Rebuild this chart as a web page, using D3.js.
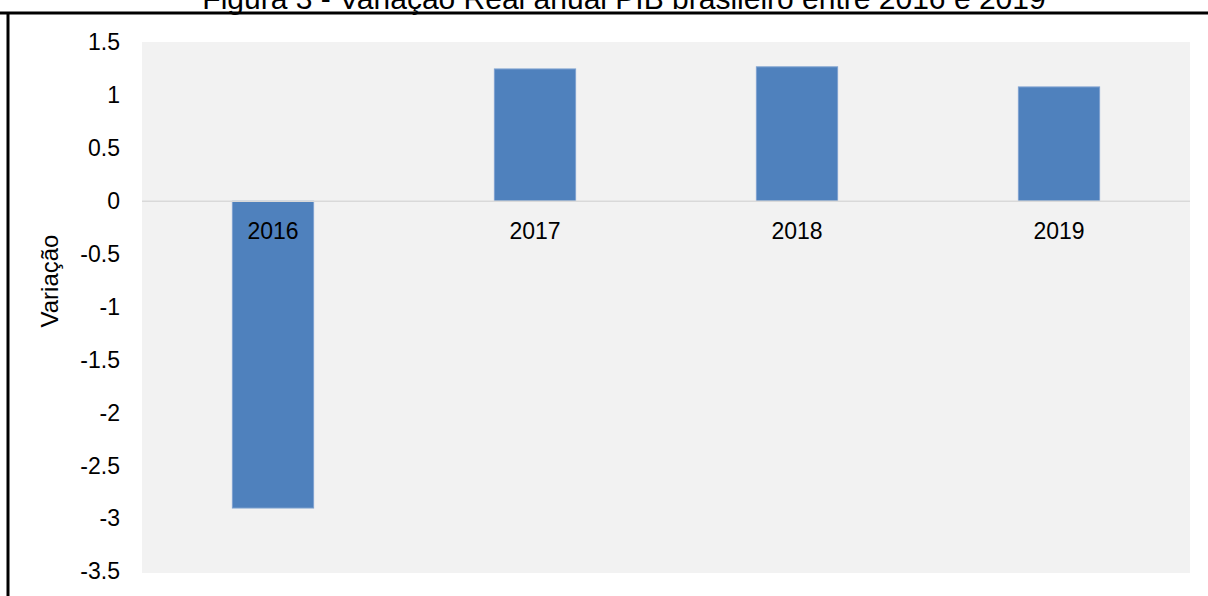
<!DOCTYPE html>
<html>
<head>
<meta charset="utf-8">
<script src="https://cdn.jsdelivr.net/npm/d3@7"></script>
<style>
  html, body { margin: 0; padding: 0; background: #ffffff; }
  svg { display: block; font-family: "Liberation Sans", Arial, sans-serif; }
</style>
</head>
<body>
<svg id="chart" width="1208" height="596"></svg>
<script>
// Variação real anual do PIB brasileiro
const years = ["2016", "2017", "2018", "2019"];
const variacao = [-2.9, 1.25, 1.27, 1.08];
const yTicks = [1.5, 1, 0.5, 0, -0.5, -1, -1.5, -2, -2.5, -3, -3.5];
const titleText = "Figura 3 - Variação Real anual PIB brasileiro entre 2016 e 2019";
const yTitle = "Variação";

const svg = d3.select("#chart");
const W = 1208, H = 596;
const plot = { left: 142, right: 1190, top: 42, bottom: 573 };

// title, partially clipped at the top
svg.append("text")
  .attr("x", 624).attr("y", 9)
  .attr("text-anchor", "middle")
  .attr("font-size", 30)
  .attr("fill", "#000")
  .text(titleText);

// frame lines (top and left)
svg.append("line").attr("x1", 0).attr("x2", W).attr("y1", 13).attr("y2", 13)
  .attr("stroke", "#000").attr("stroke-width", 3);
svg.append("line").attr("x1", 8).attr("x2", 8).attr("y1", 12).attr("y2", H)
  .attr("stroke", "#000").attr("stroke-width", 3);

// plot background
svg.append("rect")
  .attr("x", plot.left).attr("y", plot.top)
  .attr("width", plot.right - plot.left).attr("height", plot.bottom - plot.top)
  .attr("fill", "#F2F2F2");

const x = d3.scaleBand().domain(years).range([plot.left, plot.right]).paddingInner(0.69).paddingOuter(0.345);
const y = d3.scaleLinear().domain([-3.5, 1.5]).range([plot.bottom - 1.5, plot.top + 0.5]);

// y axis tick labels
const yAxis = d3.axisLeft(y).tickValues(yTicks).tickSize(0).tickPadding(0)
  .tickFormat(d => String(d));
const gy = svg.append("g").attr("transform", "translate(120,0)").call(yAxis);
gy.select(".domain").remove();
gy.selectAll("text").attr("font-size", 23).attr("fill", "#000")
  .attr("font-family", "Liberation Sans, Arial, sans-serif");

// bars
svg.append("g").selectAll("rect")
  .data(years.map((k, i) => ({ k, v: variacao[i] })))
  .join("rect")
  .attr("x", d => x(d.k))
  .attr("width", x.bandwidth())
  .attr("y", d => y(Math.max(0, d.v)))
  .attr("height", d => Math.abs(y(d.v) - y(0)))
  .attr("fill", "#4F81BD")
  .attr("stroke", "#7EA1D0")
  .attr("stroke-width", 1);

// zero line
svg.append("line")
  .attr("x1", plot.left).attr("x2", plot.right)
  .attr("y1", y(0)).attr("y2", y(0))
  .attr("stroke", "#D9D9D9").attr("stroke-width", 1.5);

// category labels just below zero
const xAxis = d3.axisBottom(x).tickSize(0).tickPadding(0);
const gx = svg.append("g").attr("transform", `translate(0,${y(0) + 21})`).call(xAxis);
gx.select(".domain").remove();
gx.selectAll("text").attr("font-size", 23).attr("fill", "#000")
  .attr("font-family", "Liberation Sans, Arial, sans-serif");

// y axis title
svg.append("text")
  .attr("transform", "translate(58,281) rotate(-90)")
  .attr("text-anchor", "middle")
  .attr("font-size", 24)
  .attr("fill", "#000")
  .text(yTitle);
</script>
</body>
</html>
